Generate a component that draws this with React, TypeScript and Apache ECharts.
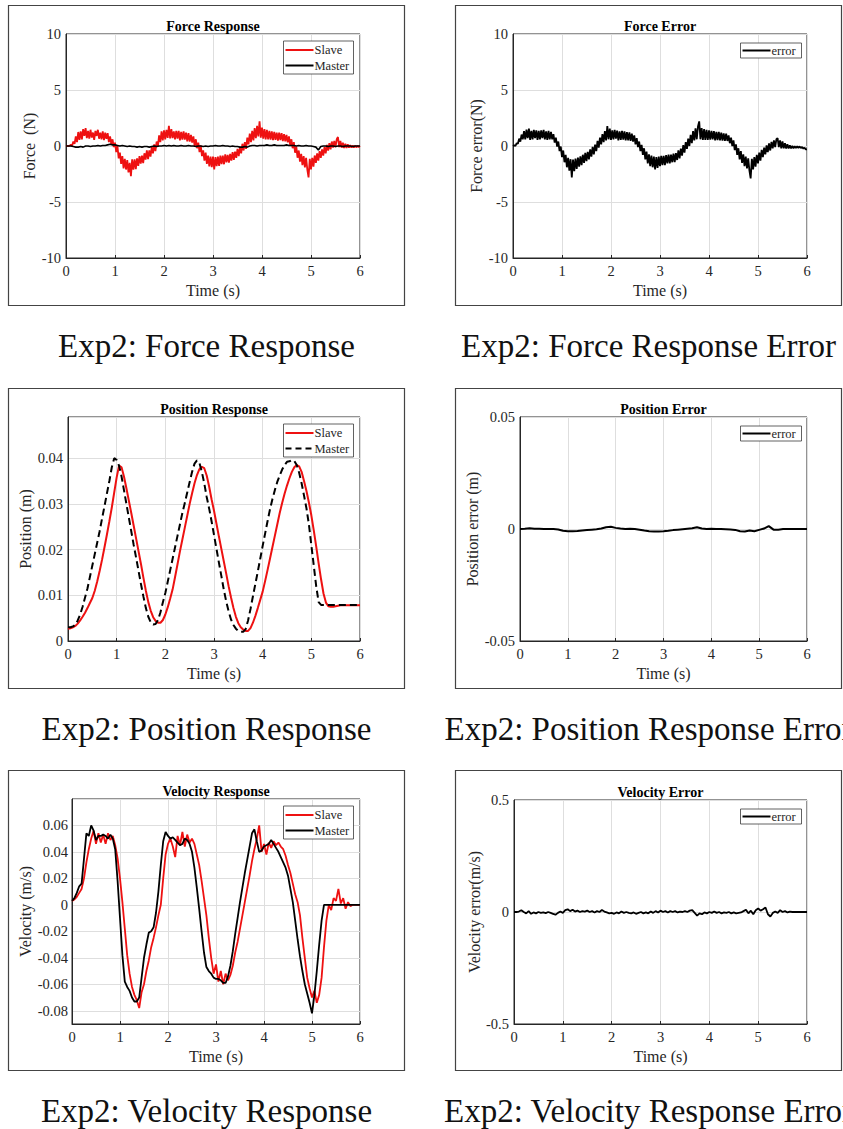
import React, { useEffect, useRef } from "react";
import * as echarts from "echarts";

// ---------- sampling ----------
const FORCE_STEP = 0.025; // s
const SAMPLE_STEP = 0.05; // s
const POS_ERR_STEP = 0.1; // s
const TIME_MIN = 0;
const TIME_MAX = 6;
const TIME_STEP = 1;

// ---------- Force response (N), 0.025 s samples ----------
const forceSlave = [
  0.0, 0.02, -0.02, 0.03, 0.1, 0.05, 0.4, 0.2, 0.85, 0.35,
  1.25, 0.55, 1.3, 0.6, 1.5, 0.9, 1.6, 0.7, 1.35, 0.65,
  1.45, 0.75, 1.2, 0.55, 1.35, 0.9, 1.45, 0.65, 1.2, 0.6,
  1.3, 0.52, 1.2, 0.65, 1.15, 0.35, 0.85, 0.15, 0.6, -0.1,
  0.3, -0.55, 0.0, -1.1, -0.6, -1.6, -0.9, -2.0, -1.15, -2.1,
  -1.25, -2.35, -1.5, -2.7, -1.2, -2.1, -1.2, -2.07, -1.1, -1.78,
  -0.9, -1.57, -0.85, -1.53, -0.65, -1.22, -0.4, -1.18, -0.4, -0.95,
  -0.1, -0.65, 0.15, -0.45, 0.4, -0.05, 0.95, 0.35, 1.3, 0.5,
  1.4, 0.6, 1.45, 0.72, 1.8, 0.67, 1.5, 0.7, 1.3, 0.6,
  1.35, 0.67, 1.35, 0.5, 1.25, 0.57, 1.3, 0.58, 1.2, 0.42,
  1.15, 0.4, 1.0, 0.3, 0.85, 0.0, 0.6, -0.2, 0.3, -0.55,
  0.05, -0.9, -0.4, -1.3, -0.6, -1.6, -0.85, -1.83, -0.95, -1.88,
  -0.95, -2.1, -1.0, -1.8, -0.95, -1.78, -0.85, -1.62, -0.85, -1.63,
  -0.75, -1.47, -0.8, -1.48, -0.7, -1.3, -0.55, -1.23, -0.5, -1.05,
  -0.25, -0.9, -0.1, -0.65, 0.2, -0.4, 0.35, -0.25, 0.75, 0.15,
  1.1, 0.35, 1.35, 0.5, 1.6, 0.7, 1.8, 0.85, 2.2, 0.75,
  1.65, 0.65, 1.5, 0.6, 1.45, 0.6, 1.35, 0.57, 1.3, 0.52,
  1.25, 0.55, 1.2, 0.47, 1.2, 0.52, 1.15, 0.43, 1.05, 0.42,
  1.0, 0.32, 0.85, 0.07, 0.6, -0.2, 0.35, -0.6, -0.05, -1.05,
  -0.4, -1.4, -0.7, -1.7, -0.9, -1.9, -1.05, -2.1, -2.8, -1.15,
  -2.1, -1.05, -1.85, -0.85, -1.5, -0.65, -1.3, -0.45, -1.05, -0.3,
  -0.85, -0.1, -0.65, 0.1, -0.4, 0.25, -0.3, 0.4, -0.15, 0.45,
  -0.1, 0.6, 0.8, -0.1, 0.45, -0.15, 0.3, -0.18, 0.2, -0.18,
  0.15, -0.14, 0.07, -0.15, 0.05, -0.13, 0.03, -0.12, 0.02, -0.09,
  0.0,
];
// 0.05 s samples
const forceMaster = [
  0, 0, 0, -0.05, -0.1, -0.1, -0.05, -0.1, 0.0, 0.0,
  -0.05, 0.0, 0.0, 0.05, 0.0, 0.05, 0.05, 0.1, 0.15, 0.1,
  0.1, 0.05, 0.0, 0.05, 0.0, -0.05, 0.0, -0.05, -0.05, -0.1,
  -0.05, -0.1, -0.05, -0.05, -0.1, -0.05, 0.0, -0.05, 0.0, 0.0,
  0.05, 0.0, 0.05, 0.0, 0.05, 0.0, 0.0, 0.05, 0.0, 0.0,
  0.05, 0.0, 0.0, -0.05, 0.0, 0.0, -0.05, 0.0, -0.05, 0.0,
  0.0, 0.05, 0.0, 0.0, 0.05, 0.0, 0.0, -0.05, 0.0, -0.05,
  -0.05, -0.1, -0.1, -0.05, -0.1, 0.0, 0.05, 0.05, 0.0, 0.05,
  0.05, 0.05, 0.1, 0.05, 0.05, 0.1, 0.05, 0.05, 0.05, 0.05,
  0.1, 0.05, 0.05, 0.05, 0.0, 0.05, 0.0, 0.0, 0.05, 0.0,
  0.0, -0.05, -0.1, -0.35, -0.05, 0.0, 0.0, -0.05, 0.0, 0.0,
  -0.05, 0.0, 0.0, -0.05, 0.0, 0.0, 0.0, -0.05, 0.0, 0.0,
  0.0,
];
// 0.025 s samples
const forceError = [
  0.0, 0.07, 0.0, 0.25, 0.2, 0.65, 0.4, 1.02, 0.6, 1.32,
  0.6, 1.47, 0.7, 1.55, 0.55, 1.35, 0.6, 1.45, 0.7, 1.4,
  0.55, 1.35, 0.6, 1.4, 0.7, 1.45, 0.6, 1.3, 0.55, 1.35,
  0.6, 1.27, 0.6, 1.05, 0.3, 0.75, -0.05, 0.4, -0.45, -0.05,
  -1.0, -0.4, -1.45, -0.8, -1.9, -1.05, -2.2, -1.18, -2.8, -1.22,
  -2.25, -1.12, -2.05, -1.03, -1.85, -0.92, -1.7, -0.78, -1.5, -0.62,
  -1.35, -0.53, -1.2, -0.3, -0.95, -0.08, -0.75, 0.13, -0.45, 0.45,
  -0.15, 0.75, 0.15, 1.07, 0.35, 1.32, 0.5, 1.78, 0.6, 1.55,
  0.55, 1.4, 0.6, 1.45, 0.65, 1.37, 0.5, 1.3, 0.55, 1.35,
  0.57, 1.3, 0.5, 1.23, 0.5, 1.22, 0.45, 1.1, 0.4, 0.95,
  0.15, 0.7, -0.1, 0.4, -0.45, 0.1, -0.8, -0.2, -1.2, -0.5,
  -1.55, -0.75, -1.8, -0.85, -1.9, -0.95, -2.1, -0.98, -1.95, -0.95,
  -1.8, -0.87, -1.7, -0.88, -1.7, -0.82, -1.55, -0.78, -1.55, -0.77,
  -1.45, -0.68, -1.45, -0.63, -1.25, -0.4, -1.1, -0.23, -0.85, 0.08,
  -0.6, 0.35, -0.25, 0.65, 0.0, 1.0, 0.25, 1.32, 0.5, 1.57,
  0.6, 1.75, 2.2, 0.6, 1.6, 0.55, 1.5, 0.55, 1.45, 0.55,
  1.4, 0.57, 1.35, 0.6, 1.32, 0.5, 1.25, 0.53, 1.27, 0.51,
  1.2, 0.49, 1.12, 0.45, 1.1, 0.45, 0.95, 0.25, 0.75, 0.0,
  0.5, -0.37, 0.15, -0.8, -0.2, -1.2, -0.45, -1.5, -0.75, -1.8,
  -0.95, -2.0, -1.1, -2.2, -2.9, -1.15, -2.1, -1.0, -1.85, -0.8,
  -1.55, -0.6, -1.3, -0.35, -1.0, -0.15, -0.75, 0.05, -0.55, 0.23,
  -0.4, 0.37, -0.2, 0.5, -0.1, 0.6, 0.7, -0.1, 0.5, -0.2,
  0.4, -0.2, 0.25, -0.22, 0.15, -0.22, 0.05, -0.22, 0.0, -0.2,
  -0.02, -0.18, -0.03, -0.17, -0.04, -0.18, -0.09, -0.23, -0.15, -0.3,
  -0.3,
];

// ---------- Position response (m), 0.05 s samples ----------
const posSlave = [
  0.0027, 0.0028, 0.003, 0.0033, 0.0038, 0.0045, 0.0053, 0.0062, 0.0072, 0.0083,
  0.0094, 0.011, 0.013, 0.0153, 0.0178, 0.0205, 0.0233, 0.0262, 0.0292, 0.0325,
  0.0358, 0.0384, 0.038, 0.036, 0.0334, 0.0307, 0.028, 0.0252, 0.0224, 0.0196,
  0.0168, 0.0138, 0.011, 0.0085, 0.0066, 0.0052, 0.0044, 0.004, 0.004, 0.0046,
  0.0058, 0.0074, 0.0093, 0.0113, 0.014, 0.0168, 0.0196, 0.0222, 0.0248, 0.0274,
  0.03, 0.0323, 0.0345, 0.0363, 0.0376, 0.0381, 0.0378, 0.0362, 0.0338, 0.031,
  0.0285, 0.0257, 0.0229, 0.0202, 0.0175, 0.0148, 0.012, 0.0095, 0.0072, 0.0053,
  0.0039, 0.003, 0.0025, 0.0022, 0.0022, 0.0028, 0.004, 0.0055, 0.0072, 0.009,
  0.0108, 0.0131, 0.0155, 0.018, 0.0205, 0.023, 0.0255, 0.028, 0.0302, 0.0322,
  0.034, 0.0356, 0.037, 0.038, 0.0385, 0.0382, 0.037, 0.035, 0.0328, 0.0303,
  0.0275, 0.0242, 0.0207, 0.017, 0.0135, 0.0104, 0.0084, 0.0076, 0.0075, 0.0075,
  0.0076, 0.0077, 0.0078, 0.0078, 0.0078, 0.0078, 0.0078, 0.0078, 0.0078, 0.0078,
  0.0078,
];
const posMaster = [
  0.003, 0.003, 0.0032, 0.0035, 0.0045, 0.0058, 0.0075, 0.0095, 0.0115, 0.014,
  0.0165, 0.019, 0.0215, 0.024, 0.0268, 0.0295, 0.0323, 0.035, 0.038, 0.04,
  0.0396, 0.0383, 0.036, 0.033, 0.03, 0.027, 0.024, 0.021, 0.0182, 0.0153,
  0.0124, 0.0097, 0.0072, 0.0053, 0.0041, 0.0036, 0.0037, 0.0046, 0.0063, 0.0085,
  0.0105, 0.013, 0.0155, 0.018, 0.0205, 0.023, 0.0255, 0.028, 0.0302, 0.0325,
  0.0348, 0.037, 0.0388, 0.0395, 0.039, 0.037, 0.0345, 0.0315, 0.029, 0.0262,
  0.0232, 0.0202, 0.0172, 0.0143, 0.0113, 0.0087, 0.0065, 0.0047, 0.0035, 0.0027,
  0.0022, 0.002, 0.002, 0.0026, 0.0045, 0.007, 0.0098, 0.0125, 0.0152, 0.018,
  0.0208, 0.0235, 0.0262, 0.0288, 0.031, 0.033, 0.0348, 0.0362, 0.0375, 0.0385,
  0.0392, 0.0393, 0.0396, 0.0394, 0.0385, 0.0368, 0.0345, 0.0318, 0.029, 0.0255,
  0.021, 0.0165, 0.012, 0.0085, 0.0079, 0.0079, 0.0079, 0.0079, 0.0079, 0.0079,
  0.0079, 0.0079, 0.0079, 0.0079, 0.0079, 0.0079, 0.0079, 0.0079, 0.0079, 0.0079,
  0.0079,
];
// 0.1 s samples
const posError = [
  0, 0.0001, 0.0003, 0.0001, 0.0001, 0, 0, 0, -0.0002, -0.0008,
  -0.001, -0.001, -0.0009, -0.0007, -0.0005, -0.0003, -0.0001, 0.0002, 0.0008, 0.001,
  0.0005, 0.0002, 0, 0.0001, 0, -0.0003, -0.0007, -0.001, -0.0011, -0.0011,
  -0.001, -0.0008, -0.0005, -0.0003, -0.0001, 0.0001, 0.0003, 0.0008, 0.0002, 0,
  0.0001, 0, 0, -0.0001, -0.0002, -0.0004, -0.001, -0.0011, -0.0007, -0.001,
  -0.0004, 0.0002, 0.0013, -0.0003, -0.0003, 0, 0, 0, 0, 0,
  0,
];

// ---------- Velocity response (m/s), 0.05 s samples ----------
const velSlave = [
  0.003, 0.004, 0.006, 0.009, 0.012, 0.02, 0.032, 0.042, 0.05, 0.056,
  0.046, 0.054, 0.047, 0.053, 0.046, 0.054, 0.049, 0.052, 0.045, 0.035,
  0.02, 0.002, -0.018, -0.038, -0.052, -0.062, -0.068, -0.072, -0.078, -0.066,
  -0.06, -0.05, -0.042, -0.032, -0.025, -0.017, -0.008, 0.0, 0.02, 0.038,
  0.046, 0.05, 0.044, 0.036, 0.052, 0.045, 0.055, 0.044, 0.053, 0.047,
  0.05, 0.046, 0.038, 0.03, 0.018, 0.005, -0.008, -0.025, -0.04, -0.052,
  -0.045, -0.058, -0.05, -0.06, -0.052, -0.057, -0.053, -0.046, -0.036, -0.028,
  -0.018, -0.008, 0.002, 0.012, 0.022, 0.033, 0.042, 0.05, 0.06, 0.04,
  0.046, 0.038, 0.047, 0.043, 0.048, 0.045, 0.047, 0.044, 0.042, 0.037,
  0.03, 0.024, 0.016, 0.008, 0.002, -0.008, -0.025, -0.04, -0.055, -0.063,
  -0.07, -0.065, -0.074, -0.068, -0.055, -0.032, -0.012, 0.0, -0.004, 0.005,
  0.003, 0.012, 0.001, 0.005, -0.003, 0.002, -0.001, 0.0, 0.0, 0.0,
  0.0,
];
const velMaster = [
  0.003, 0.005, 0.009, 0.014, 0.016, 0.035, 0.054, 0.052, 0.06, 0.056,
  0.049, 0.052, 0.052, 0.053, 0.052, 0.05, 0.053, 0.05, 0.042, 0.018,
  -0.01, -0.038, -0.058, -0.062, -0.065, -0.07, -0.073, -0.073, -0.07, -0.055,
  -0.04, -0.03, -0.021, -0.02, -0.017, -0.006, 0.01, 0.03, 0.048, 0.055,
  0.052, 0.05, 0.051, 0.049, 0.047, 0.045, 0.046, 0.05, 0.049, 0.046,
  0.04, 0.028, 0.013, -0.003, -0.02, -0.036, -0.047, -0.05, -0.052, -0.055,
  -0.056, -0.056, -0.057, -0.059, -0.059, -0.054, -0.046, -0.035, -0.022, -0.01,
  0.002, 0.013, 0.024, 0.034, 0.044, 0.054, 0.057, 0.048, 0.04, 0.041,
  0.044, 0.045, 0.046, 0.049, 0.046, 0.043, 0.04, 0.036, 0.032, 0.028,
  0.022, 0.012, 0.002, -0.012, -0.026, -0.039, -0.05, -0.06, -0.067, -0.074,
  -0.082, -0.068, -0.05, -0.03, -0.012, 0.0, 0.0, 0.0, 0.0, 0.0,
  0.0, 0.0, 0.0, 0.0, 0.0, 0.0, 0.0, 0.0, 0.0, 0.0,
  0.0,
];
const velError = [
  0.0, 0.0, 0.002, 0.008, 0.0, -0.006, 0.004, -0.008, -0.002, -0.006,
  0.0, -0.004, -0.002, -0.005, 0.0, -0.004, -0.008, -0.012, -0.004, 0.002,
  -0.004, 0.008, 0.012, 0.004, 0.01, 0.002, 0.006, 0.0, 0.004, 0.002,
  0.006, 0.0, 0.004, -0.002, 0.004, 0.0, 0.009, 0.002, -0.002, -0.006,
  -0.004, -0.008, -0.002, -0.006, 0.002, -0.004, 0.0, -0.004, -0.006, -0.002,
  -0.008, -0.004, 0.0, -0.006, -0.002, -0.006, 0.002, -0.004, 0.004, -0.002,
  0.006, 0.0, 0.004, -0.002, 0.004, 0.0, 0.004, -0.002, 0.002, 0.0,
  0.004, 0.0, 0.006, 0.008, -0.004, -0.016, -0.006, -0.01, -0.002, -0.006,
  0.0, -0.004, 0.002, -0.004, 0.0, -0.006, -0.002, -0.004, 0.0, -0.006,
  -0.002, -0.006, -0.004, -0.002, 0.004, 0.01, -0.006, 0.006, -0.01, 0.008,
  0.016, 0.006, 0.012, 0.02, -0.01, -0.02, -0.004, 0.002, -0.004, 0.008,
  0.0, 0.004, -0.002, 0.002, 0.0, 0.0, 0.0, 0.0, 0.0, 0.0,
  0.0,
];

// ---------- styling ----------
const FONT = "'Liberation Serif', 'Times New Roman', serif";
const RED = "#ee1111";
const BLACK = "#000000";
const AXIS_COLOR = "#262626";
const GRID_COLOR = "#dedede";

function toPairs(values: number[], step: number) {
  return values.map((v, i) => [Math.round(i * step * 1000) / 1000, v]);
}
const isMultiple = (v: number, m: number) => Math.abs(v / m - Math.round(v / m)) < 1e-6;
const fmt = (v: number) => String(parseFloat(v.toFixed(6)));

type SeriesDef = { name: string; values: number[]; step: number; color: string; dashed?: boolean; width: number };
type PanelDef = {
  frame: [number, number, number, number];
  grid: { left: number; top: number; width: number; height: number };
  title: string;
  caption: string;
  captionY: number;
  yName: string;
  yNameGap: number;
  yMin: number;
  yMax: number;
  yStep: number;
  labelMargin: number;
  series: SeriesDef[];
};

const panels: PanelDef[] = [
  {
    frame: [8.5, 5.5, 396, 300],
    grid: { left: 66, top: 34, width: 294, height: 224 },
    title: "Force Response",
    caption: "Exp2: Force Response",
    captionY: 346,
    yName: "Force  (N)",
    yNameGap: 27,
    yMin: -10, yMax: 10, yStep: 5, labelMargin: 5,
    series: [
      { name: "Slave", values: forceSlave, step: FORCE_STEP, color: RED, width: 1.8 },
      { name: "Master", values: forceMaster, step: SAMPLE_STEP, color: BLACK, width: 1.6 },
    ],
  },
  {
    frame: [455.5, 5.5, 386, 300],
    grid: { left: 513, top: 34, width: 294, height: 224 },
    title: "Force Error",
    caption: "Exp2: Force Response Error",
    captionY: 346,
    yName: "Force error(N)",
    yNameGap: 27,
    yMin: -10, yMax: 10, yStep: 5, labelMargin: 5,
    series: [{ name: "error", values: forceError, step: FORCE_STEP, color: BLACK, width: 1.8 }],
  },
  {
    frame: [8.5, 388.5, 396, 300],
    grid: { left: 68, top: 417, width: 292, height: 224 },
    title: "Position Response",
    caption: "Exp2: Position Response",
    captionY: 729,
    yName: "Position (m)",
    yNameGap: 33,
    yMin: 0, yMax: 0.049, yStep: 0.01, labelMargin: 5,
    series: [
      { name: "Slave", values: posSlave, step: SAMPLE_STEP, color: RED, width: 2 },
      { name: "Master", values: posMaster, step: SAMPLE_STEP, color: BLACK, width: 2, dashed: true },
    ],
  },
  {
    frame: [455.5, 388.5, 386, 300],
    grid: { left: 520, top: 417, width: 287, height: 224 },
    title: "Position Error",
    caption: "Exp2: Position Response Error",
    captionY: 729,
    yName: "Position error (m)",
    yNameGap: 36,
    yMin: -0.05, yMax: 0.05, yStep: 0.05, labelMargin: 5,
    series: [{ name: "error", values: posError, step: POS_ERR_STEP, color: BLACK, width: 2 }],
  },
  {
    frame: [8.5, 770.5, 396, 300],
    grid: { left: 72, top: 799, width: 288, height: 225 },
    title: "Velocity Response",
    caption: "Exp2: Velocity Response",
    captionY: 1111,
    yName: "Velocity (m/s)",
    yNameGap: 35,
    yMin: -0.09, yMax: 0.0799, yStep: 0.02, labelMargin: 4,
    series: [
      { name: "Slave", values: velSlave, step: SAMPLE_STEP, color: RED, width: 1.8 },
      { name: "Master", values: velMaster, step: SAMPLE_STEP, color: BLACK, width: 1.8 },
    ],
  },
  {
    frame: [455.5, 770.5, 386, 300],
    grid: { left: 514, top: 800, width: 293, height: 224 },
    title: "Velocity Error",
    caption: "Exp2: Velocity Response Error",
    captionY: 1111,
    yName: "Velocity error(m/s)",
    yNameGap: 29,
    yMin: -0.5, yMax: 0.5, yStep: 0.5, labelMargin: 5,
    series: [{ name: "error", values: velError, step: SAMPLE_STEP, color: BLACK, width: 1.8 }],
  },
];

function legendElements(p: PanelDef) {
  const right = p.grid.left + p.grid.width;
  const top = p.grid.top;
  const els: any[] = [];
  const two = p.series.length === 2;
  const w = two ? 70 : 61;
  const h = two ? 33 : 15;
  const x0 = right - (two ? 6.5 : 5.5) - w;
  const y0 = top + (two ? 7 : 9);
  els.push({
    type: "rect", z: 100, silent: true,
    shape: { x: x0, y: y0, width: w, height: h },
    style: { fill: "#ffffff", stroke: "#3a3a3a", lineWidth: 0.8 },
  });
  p.series.forEach((s, k) => {
    const cy = two ? y0 + 9 + k * 15.5 : y0 + h / 2;
    els.push({
      type: "line", z: 101, silent: true,
      shape: { x1: x0 + 2, y1: cy, x2: x0 + 30, y2: cy },
      style: { stroke: s.color, lineWidth: 2, lineDash: s.dashed ? [6, 4] : null },
    });
    els.push({
      type: "text", z: 101, silent: true, x: x0 + 31, y: cy,
      style: {
        text: s.name, fill: "#262626", fontSize: 12.5, fontFamily: FONT,
        align: "left", verticalAlign: "middle", textAlign: "left", textVerticalAlign: "middle",
      },
    });
  });
  return els;
}

export default function App() {
  const ref = useRef<HTMLDivElement>(null);
  useEffect(() => {
    if (!ref.current) return;
    const chart = echarts.init(ref.current, null, { renderer: "svg" });

    const grids = panels.map((p) => ({
      left: p.grid.left, top: p.grid.top, width: p.grid.width, height: p.grid.height,
      show: true, borderColor: AXIS_COLOR, borderWidth: 1, backgroundColor: "#ffffff",
      containLabel: false,
    }));

    const xAxes = panels.map((p, i) => ({
      type: "value", gridIndex: i, min: TIME_MIN, max: TIME_MAX, interval: TIME_STEP,
      name: "Time (s)", nameLocation: "middle", nameGap: 24,
      nameTextStyle: { fontSize: 16, color: AXIS_COLOR, fontFamily: FONT },
      axisLine: { show: true, onZero: false, lineStyle: { color: AXIS_COLOR, width: 1 } },
      axisTick: { show: true, inside: true, length: 3, lineStyle: { color: AXIS_COLOR } },
      axisLabel: { fontSize: 14.5, color: AXIS_COLOR, fontFamily: FONT, margin: 5 },
      splitLine: { show: true, lineStyle: { color: GRID_COLOR, width: 1 } },
    }));

    const yAxes = panels.map((p, i) => ({
      type: "value", gridIndex: i, min: p.yMin, max: p.yMax,
      minInterval: p.yStep, maxInterval: p.yStep, splitNumber: 5,
      name: p.yName, nameLocation: "middle", nameGap: p.yNameGap,
      nameTextStyle: { fontSize: 16, color: AXIS_COLOR, fontFamily: FONT },
      axisLine: { show: true, onZero: false, lineStyle: { color: AXIS_COLOR, width: 1 } },
      axisTick: { show: false },
      axisLabel: {
        fontSize: 14.5, color: AXIS_COLOR, fontFamily: FONT, margin: p.labelMargin,
        formatter: (v: number) => (isMultiple(v, p.yStep) ? fmt(v) : ""),
      },
      splitLine: { show: true, lineStyle: { color: GRID_COLOR, width: 1 } },
    }));

    const series: any[] = [];
    panels.forEach((p, i) => {
      p.series.forEach((s) => {
        series.push({
          type: "line", name: s.name, xAxisIndex: i, yAxisIndex: i,
          data: toPairs(s.values, s.step),
          showSymbol: false, symbol: "none", smooth: false,
          lineStyle: { color: s.color, width: s.width, type: s.dashed ? [7, 4] : "solid" },
          itemStyle: { color: s.color },
          emphasis: { disabled: true },
          z: 3,
        });
      });
    });

    const titles = panels.map((p) => ({
      text: p.title,
      left: p.grid.left + p.grid.width / 2,
      top: p.grid.top - 7.5,
      textAlign: "center",
      textVerticalAlign: "middle",
      padding: 0,
      textStyle: { fontSize: 14, fontWeight: "bold", color: "#000", fontFamily: FONT },
    }));

    const graphics: any[] = [];
    panels.forEach((p) => {
      const [fx, fy, fw, fh] = p.frame;
      graphics.push({
        type: "rect", z: 0, silent: true,
        shape: { x: fx, y: fy, width: fw, height: fh },
        style: { fill: "none", stroke: "#444444", lineWidth: 1.2 },
      });
      graphics.push({
        type: "text", z: 0, silent: true, x: fx + fw / 2, y: p.captionY,
        style: {
          text: p.caption, fill: "#111111", fontSize: 33, fontFamily: FONT,
          align: "center", verticalAlign: "middle", textAlign: "center", textVerticalAlign: "middle",
        },
      });
      legendElements(p).forEach((e) => graphics.push(e));
    });

    chart.setOption({
      animation: false,
      backgroundColor: "#ffffff",
      title: titles,
      grid: grids,
      xAxis: xAxes,
      yAxis: yAxes,
      series,
      graphic: { elements: graphics },
    });
    return () => chart.dispose();
  }, []);

  return (
    <div
      ref={ref}
      style={{ position: "absolute", left: 0, top: 0, width: 843, height: 1129, background: "#fff" }}
    />
  );
}
